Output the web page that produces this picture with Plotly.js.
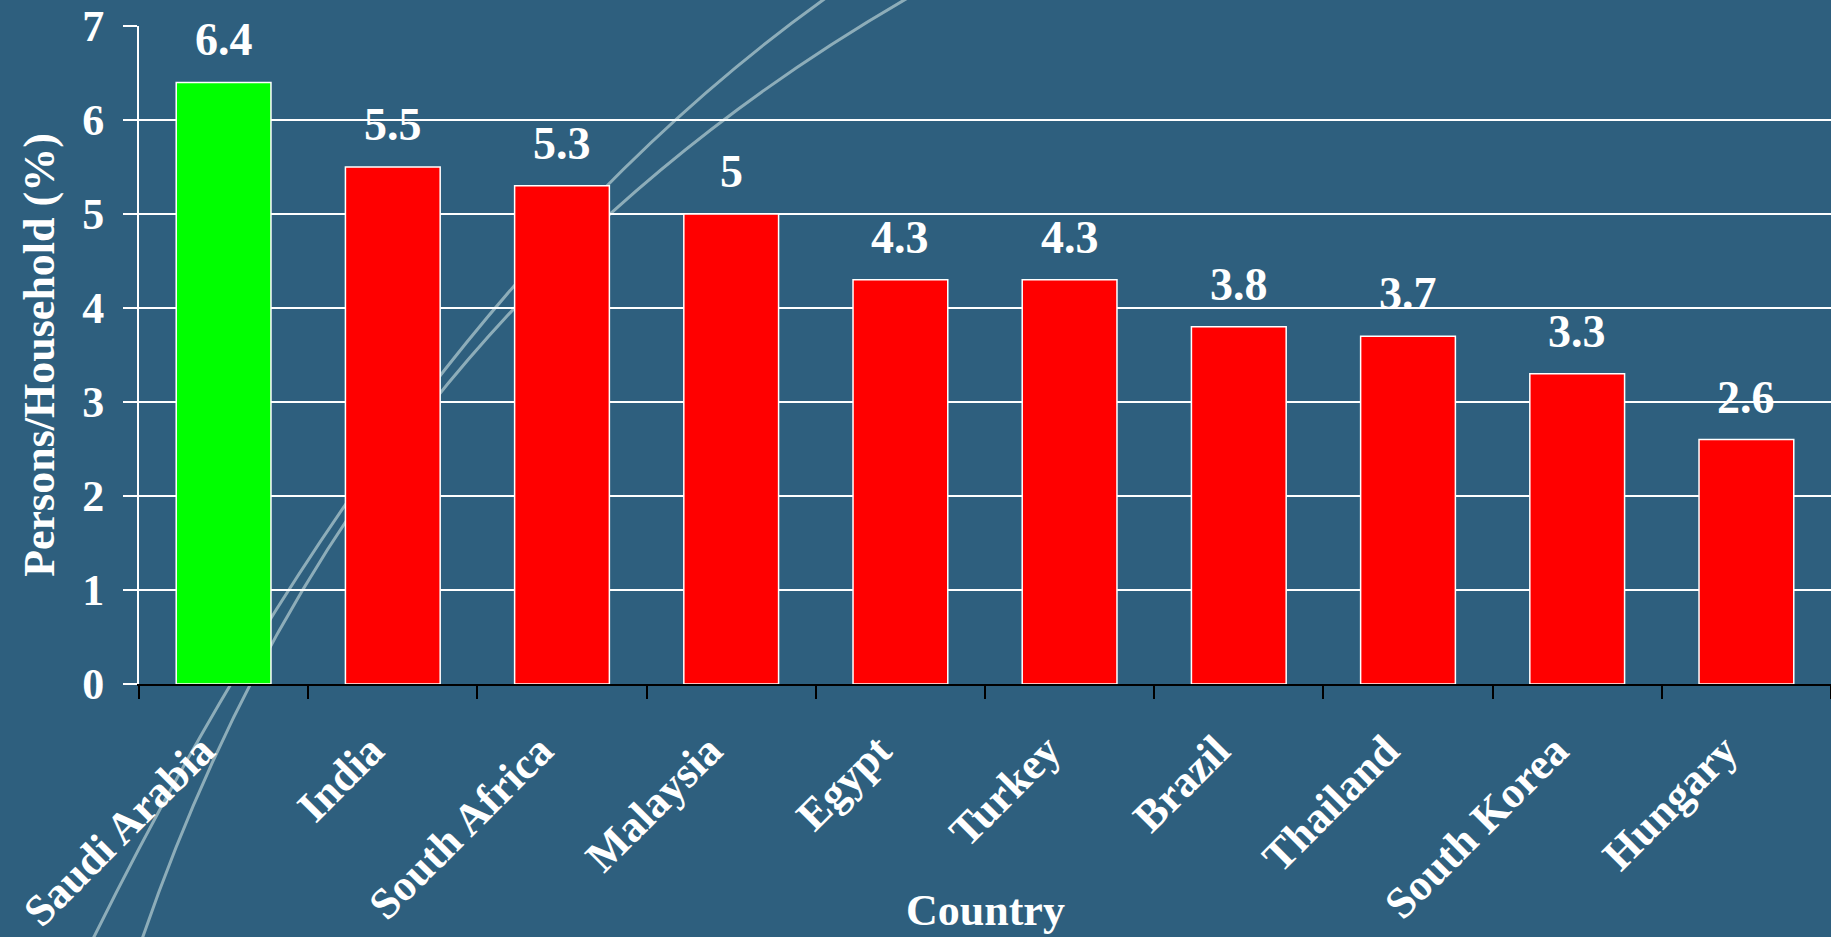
<!DOCTYPE html>
<html>
<head>
<meta charset="utf-8">
<script src="https://cdn.plot.ly/plotly-3.0.1.min.js"></script>
<style>html,body{margin:0;padding:0;background:#2E5F7E;}#chart{width:1831px;height:937px;}</style>
</head>
<body>
<div id="chart"></div>
<script>
// ---- data ----
const countries = ["Saudi Arabia", "India", "South Africa", "Malaysia", "Egypt", "Turkey", "Brazil", "Thailand", "South Korea", "Hungary"];
const personsPerHousehold = [6.4, 5.5, 5.3, 5, 4.3, 4.3, 3.8, 3.7, 3.3, 2.6];
const valueLabels = ["6.4", "5.5", "5.3", "5", "4.3", "4.3", "3.8", "3.7", "3.3", "2.6"];
const highlighted = "Saudi Arabia";

// ---- styling ----
const BG = "#2E5F7E";
const FONT = "Liberation Serif, Times New Roman, serif";
const barColors = countries.map(c => c === highlighted ? "#00FF00" : "#FF0000");
const M = { l: 139, r: 0, t: 26, b: 253 };
const W = 1831, H = 937;
const plotW = W - M.l - M.r, plotH = H - M.t - M.b, baseY = M.t + plotH;

const trace = {
  type: "bar",
  x: countries,
  y: personsPerHousehold,
  marker: { color: barColors, line: { color: "#FFFFFF", width: 1.5 } },
  hoverinfo: "x+y"
};

const labelAnnotations = countries.map((c, i) => ({
  x: c, y: personsPerHousehold[i], xref: "x", yref: "y",
  text: valueLabels[i], showarrow: false, yanchor: "bottom", yshift: 15,
  font: { family: FONT, size: 46, color: "#FFFFFF", weight: "bold" }
}));

// decorative background arcs (paper coordinates of the plot area)
function px(x) { return ((x - M.l) / plotW).toFixed(4); }
function py(y) { return ((baseY - y) / plotH).toFixed(4); }
function arc(p0, c, p2) {
  return `M ${px(p0[0])},${py(p0[1])} Q ${px(c[0])},${py(c[1])} ${px(p2[0])},${py(p2[1])}`;
}
const arcStyle = { color: "rgba(165,192,200,0.8)", width: 3 };
const shapes = [
  { type: "path", xref: "paper", yref: "paper", layer: "below", path: arc([90, 945], [412, 292], [830, -5]), line: arcStyle },
  { type: "path", xref: "paper", yref: "paper", layer: "below", path: arc([140, 945], [354, 316], [913, -5]), line: arcStyle }
];

const layout = {
  width: W, height: H,
  margin: M,
  paper_bgcolor: BG,
  plot_bgcolor: "rgba(0,0,0,0)",
  showlegend: false,
  bargap: 0.44,
  font: { family: FONT, color: "#FFFFFF", size: 46, weight: "bold" },
  xaxis: {
    type: "category",
    showline: true, linecolor: "#000000", linewidth: 2,
    ticks: "outside", tickson: "boundaries", ticklen: 13, tickwidth: 2, tickcolor: "#000000",
    tickangle: -45, ticklabelstandoff: 21, ticklabelshift: -22, ticklabeloverflow: "allow",
    tickfont: { family: FONT, size: 44, color: "#FFFFFF", weight: "bold" },
    showgrid: false, zeroline: false
  },
  yaxis: {
    range: [0, 7], dtick: 1,
    showline: true, linecolor: "#FFFFFF", linewidth: 2,
    ticks: "outside", ticklen: 14, tickwidth: 2, tickcolor: "#FFFFFF",
    ticklabelstandoff: 10, ticklabeloverflow: "allow",
    tickfont: { family: FONT, size: 44, color: "#FFFFFF", weight: "bold" },
    showgrid: true, gridcolor: "#FFFFFF", gridwidth: 2, zeroline: false,
    title: { text: "Persons/Household (%)", standoff: 14, font: { family: FONT, size: 44, color: "#FFFFFF", weight: "bold" } }
  },
  annotations: labelAnnotations.concat([{
    xref: "paper", yref: "paper", x: 0.5, y: (baseY - 910) / plotH, yanchor: "middle",
    text: "Country", showarrow: false,
    font: { family: FONT, size: 44, color: "#FFFFFF", weight: "bold" }
  }]),
  shapes: shapes
};

Plotly.newPlot("chart", [trace], layout, { displayModeBar: false, responsive: false });
</script>
</body>
</html>
